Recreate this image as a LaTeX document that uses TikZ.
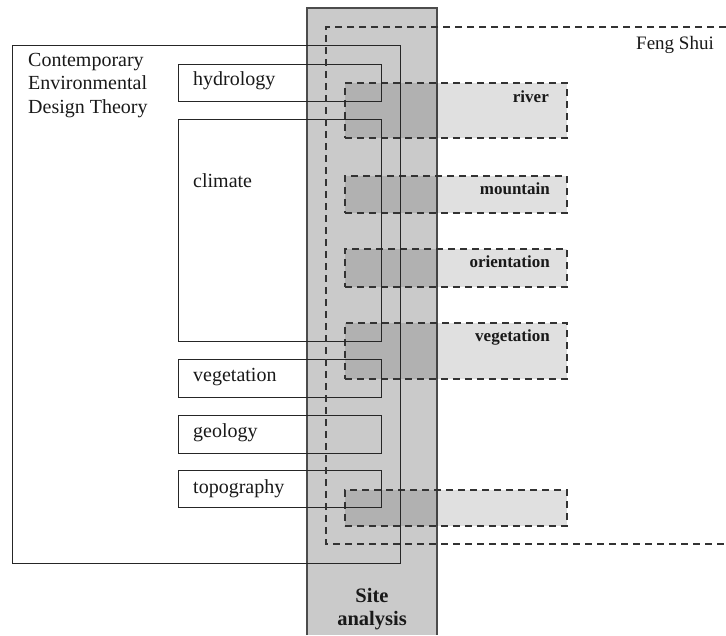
\documentclass[tikz,border=0pt]{standalone}
\usepackage{fontspec}
\setmainfont{Liberation Serif}
\begin{document}
\begin{tikzpicture}[x=1pt,y=-1pt,
  solidbox/.style={draw=black!85, line width=1.4pt, minimum width=203pt, anchor=north west, inner sep=0pt},
  fsbox/.style={draw=black!80, line width=1.7pt, dash pattern=on 7pt off 5pt, fill=black, fill opacity=0.12, draw opacity=1, minimum width=222pt, anchor=north west, inner sep=0pt},
  lbl/.style={anchor=base west, inner sep=0pt, text=black!90, font=\fontsize{20}{23.5}\selectfont},
  fslbl/.style={anchor=base east, inner sep=0pt, text=black!90, font=\fontsize{17}{20}\selectfont\bfseries},
]
\definecolor{sitegray}{RGB}{202,202,202}
\useasboundingbox (0,0) rectangle (726,635);
% Site analysis column
\fill[sitegray] (307,8) rectangle (437,635);
\draw[black!70, line width=1.4pt] (307,635) -- (307,8) -- (437,8) -- (437,635);
\coordinate (sitetop) at (372,8);
% Feng Shui boxes
\node[fsbox, minimum height=55pt] (fsriver) at (344,82) {};
\node[fsbox, minimum height=37pt] (fsmount) at (344,175) {};
\node[fsbox, minimum height=38pt] (fsorient) at (344,248) {};
\node[fsbox, minimum height=56pt] (fsveg) at (344,322) {};
\node[fsbox, minimum height=36pt] (fsempty) at (344,489) {};
% Contemporary Environmental Design Theory box
\node[draw=black!85, line width=1.4pt, minimum width=388pt, minimum height=518pt, anchor=north west, inner sep=0pt] (cedt) at (12,45) {};
\node[solidbox, minimum height=37pt] (hyd) at (178,64) {};
\node[solidbox, minimum height=222pt] (clim) at (178,119) {};
\node[solidbox, minimum height=38pt] (veg) at (178,359) {};
\node[solidbox, minimum height=38pt] (geo) at (178,415) {};
\node[solidbox, minimum height=37pt] (topo) at (178,470) {};
% Feng Shui outline (open on the right)
\coordinate (fsNE) at (726,27);
\coordinate (fsSE) at (726,544);
\draw[black!80, line width=1.7pt, dash pattern=on 7pt off 5pt] (fsNE) -- (326,27) -- (326,544) -- (fsSE);
% texts
\node[lbl, align=left] (cedtlbl) at (28,113) {Contemporary\\Environmental\\Design Theory};
\node[lbl] (hydlbl) at (193,85) {hydrology};
\node[lbl] (climlbl) at (193,187) {climate};
\node[lbl] (veglbl) at (193,381) {vegetation};
\node[lbl] (geolbl) at (193,437) {geology};
\node[lbl] (topolbl) at (193,493) {topography};
\node[anchor=base east, inner sep=0pt, text=black!90, font=\fontsize{19}{22}\selectfont] (fslbl) at (714,49) {Feng Shui};
\node[fslbl] (riverlbl) at (549,102) {river};
\node[fslbl] (mountlbl) at (550,194) {mountain};
\node[fslbl] (orientlbl) at (550,267) {orientation};
\node[fslbl] (vegfslbl) at (550,341) {vegetation};
\node[anchor=base, inner sep=0pt, text=black!90, font=\fontsize{20.5}{23}\selectfont\bfseries] (sitelbl) at (372,602) {Site};
\node[anchor=base, inner sep=0pt, text=black!90, font=\fontsize{20.5}{23}\selectfont\bfseries] (analysislbl) at (372,625) {analysis};
\end{tikzpicture}
\end{document}
